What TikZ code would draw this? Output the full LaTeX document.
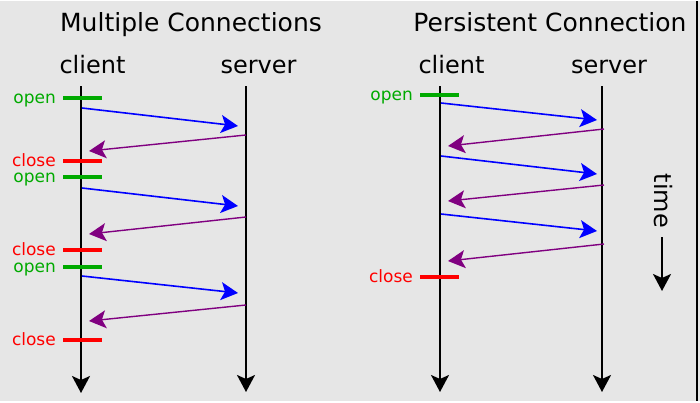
\documentclass[tikz,border=0pt]{standalone}
\usepackage{fontspec}
\setmainfont{DejaVu Sans}
\usetikzlibrary{arrows.meta}
\definecolor{bggray}{RGB}{230,230,230}
\definecolor{opengreen}{RGB}{0,170,0}
\definecolor{msgpurple}{RGB}{128,0,128}

\begin{document}
\begin{tikzpicture}[x=1pt, y=-1pt,
  every node/.style={inner sep=0pt},
  title/.style={font=\fontsize{25}{30}\selectfont, anchor=base},
  actor/.style={font=\fontsize{24}{28}\selectfont, anchor=base},
  tag/.style={font=\fontsize{17}{20}\selectfont, anchor=base east},
  >={Stealth[length=17pt, width=18pt, inset=4pt]},
  life/.style={->, line width=2pt},
  req/.style={->, blue, line width=1.6pt},
  resp/.style={->, msgpurple, line width=1.4pt},
  tick/.style={line width=4pt},
]
\fill[bggray] (0,0) rectangle (700,400);
\draw[line width=2pt] (697,0) -- (697,400);

% multiple connections
\node[title] (mtitle) at (191,30) {Multiple Connections};
\node[actor] (mclient) at (92.5,72) {client};
\node[actor] (mserver) at (258.5,72) {server};
\coordinate (mcTop) at (81,85);
\coordinate (mcEnd) at (81,392);
\coordinate (msTop) at (246,85);
\coordinate (msEnd) at (246,391);
\draw[life] (mcTop) -- (mcEnd);
\draw[life] (msTop) -- (msEnd);

\foreach \y/\c/\t in {97/opengreen/open, 160/red/close, 176/opengreen/open,
                      249/red/close, 266/opengreen/open, 339/red/close} {
  \draw[tick, \c] (63,\y) -- (102,\y);
  \node[tag, text=\c] (mtag\y) at (56,\y+5) {\t};
}

\foreach \n/\ys/\ye in {1/107/125, 2/187/205, 3/275/292} {
  \coordinate (mreqA\n) at (82,\ys);
  \coordinate (mreqB\n) at (238,\ye);
  \draw[req] (mreqA\n) -- (mreqB\n);
}
\foreach \n/\ys/\ye in {1/134/150, 2/216/233, 3/304/320} {
  \coordinate (mrespA\n) at (246,\ys);
  \coordinate (mrespB\n) at (89,\ye);
  \draw[resp] (mrespA\n) -- (mrespB\n);
}

% persistent connection
\node[title] (ptitle) at (550,30) {Persistent Connection};
\node[actor] (pclient) at (451.5,72) {client};
\node[actor] (pserver) at (609,72) {server};
\coordinate (pcTop) at (440,85);
\coordinate (pcEnd) at (440,391);
\coordinate (psTop) at (602,85);
\coordinate (psEnd) at (602,391);
\draw[life] (pcTop) -- (pcEnd);
\draw[life] (psTop) -- (psEnd);

\draw[tick, opengreen] (420,94) -- (459,94);
\node[tag, text=opengreen] (popen) at (413,99) {open};
\draw[tick, red] (420,276) -- (459,276);
\node[tag, text=red] (pclose) at (413,281) {close};

\foreach \n/\ys/\ye in {1/102/119, 2/155/173, 3/213/230} {
  \coordinate (preqA\n) at (441,\ys);
  \coordinate (preqB\n) at (597,\ye);
  \draw[req] (preqA\n) -- (preqB\n);
}
\foreach \n/\ys/\ye in {1/128/145, 2/184/200, 3/243/260} {
  \coordinate (prespA\n) at (604,\ys);
  \coordinate (prespB\n) at (448,\ye);
  \draw[resp] (prespA\n) -- (prespB\n);
}

% time axis
\node[actor, anchor=center, rotate=-90] (time) at (663,200) {time};
\coordinate (timeEnd) at (662,290);
\draw[life] (time.east) ++(-1,9) coordinate (timeTop) -- (timeEnd);
\end{tikzpicture}
\end{document}
